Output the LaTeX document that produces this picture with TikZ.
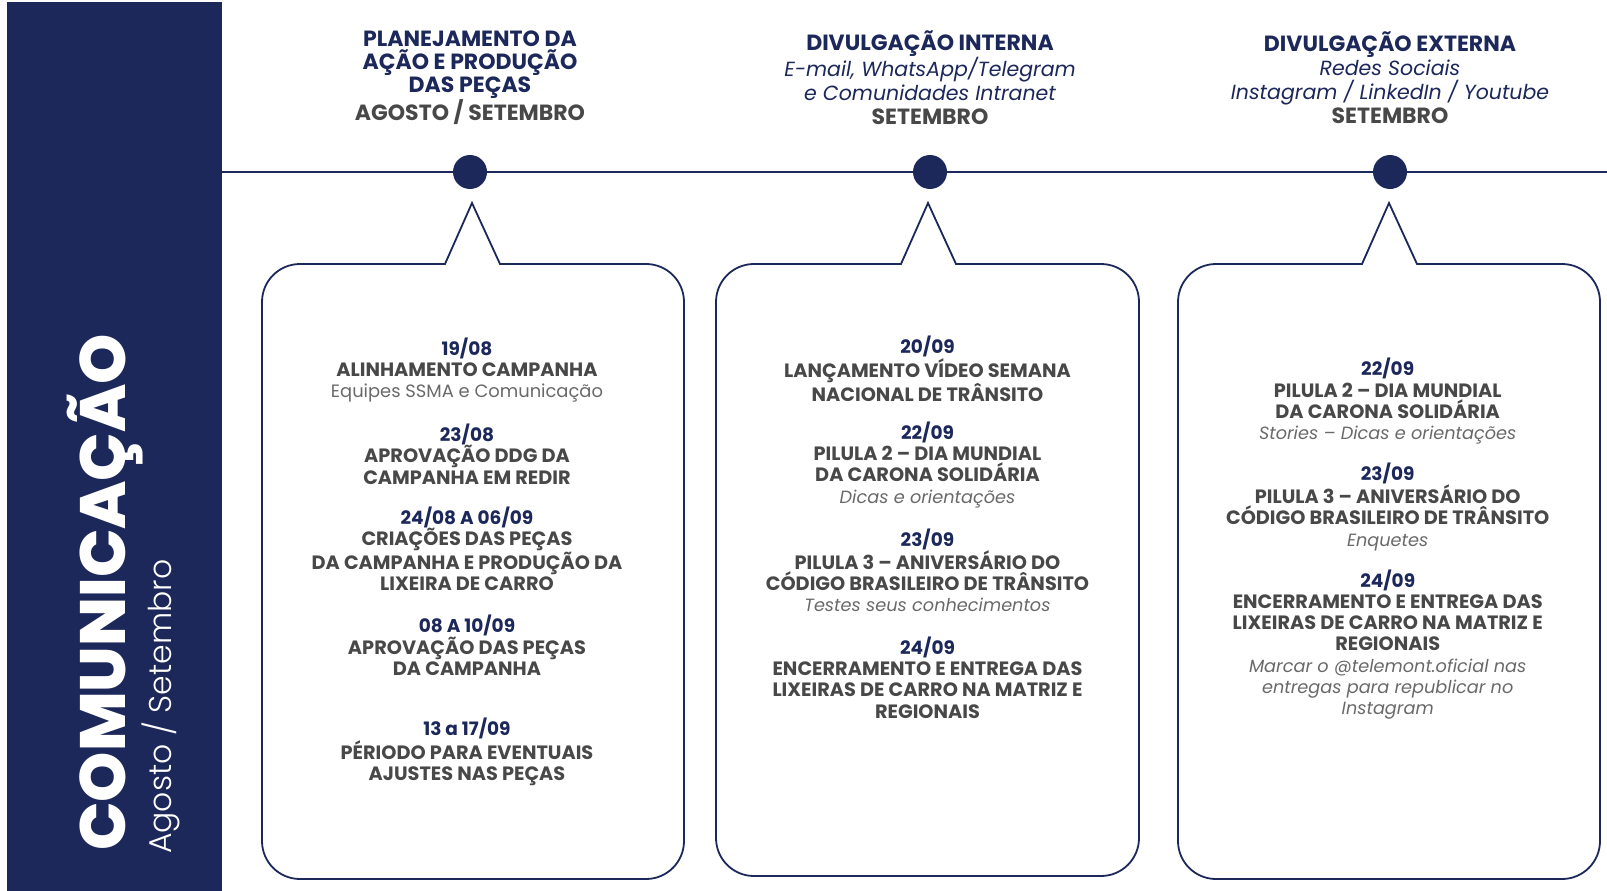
\documentclass[tikz,border=0pt]{standalone}
\usepackage{fontspec}
\setmainfont{Poppins}
\newfontfamily\lightfont{Poppins Light}
\newfontfamily\heavyfont{Poppins ExtraBold}
\usetikzlibrary{positioning}

\definecolor{navy}{RGB}{28,39,90}
\definecolor{txtgray}{RGB}{72,72,72}
\definecolor{notegray}{RGB}{105,105,105}

\newcommand\phtitle[1]{{\fontsize{22}{24}\selectfont\color{navy}\bfseries #1}}
\newcommand\phsub[1]{{\color{navy}\itshape #1}}
\newcommand\phmonth[1]{{\fontsize{22}{24}\selectfont\color{txtgray}\bfseries #1}}
\newcommand\evdate[1]{{\fontsize{18.5}{21.3}\selectfont\color{navy}\bfseries #1}}
\newcommand\evtitle[1]{{\fontsize{19.3}{21.3}\selectfont\color{txtgray}\bfseries #1}}
\newcommand\evnote[1]{{\fontsize{17.7}{21.3}\selectfont\color{notegray}\itshape #1}}
\newcommand\evplain[1]{{\fontsize{17.9}{21.3}\selectfont\color{notegray}#1}}

\tikzset{
	dot/.style={circle, fill=navy, minimum size=34pt, inner sep=0pt},
	bubble/.style={draw=navy, line width=1.8pt},
	entry/.style={align=center, inner sep=0pt, font=\fontsize{18.5}{21.3}\selectfont},
	phase/.style={align=center, inner sep=0pt, font=\fontsize{20.5}{24}\selectfont},
}

\begin{document}
\begin{tikzpicture}[x=1pt, y=-1pt]
	\useasboundingbox (0,0) rectangle (1607,891);
	
	% side bar
	\node (side) [fill=navy, minimum width=215pt, minimum height=889pt, inner sep=0pt, anchor=north west] at (7,2) {};
	\node (area) [rotate=90, anchor=base west, inner sep=0pt, text=white, font=\fontsize{64}{64}\heavyfont] at (125,851) {COMUNICAÇÃO};
	\node (period) [rotate=90, anchor=base west, inner sep=0pt, text=white, font=\fontsize{31.5}{31.5}\lightfont] at (171,854) {Agosto / Setembro};
	
	% timeline
	\node (dot1) [dot] at (470,172) {};
	\node (dot2) [dot, on grid, right=460pt of dot1] {};
	\node (dot3) [dot, on grid, right=460pt of dot2] {};
	\coordinate (tlend) at (1607,172);
	\draw[navy, line width=1.8pt] (side.east |- dot1) -- (dot1) -- (dot2) -- (dot3) -- (tlend);
	
	\node (phase1) [phase, font=\fontsize{20.5}{23}\selectfont, on grid, above=94.5pt of dot1] {\phtitle{PLANEJAMENTO DA}\\ \phtitle{AÇÃO E PRODUÇÃO}\\ \phtitle{DAS PEÇAS}\\ \phmonth{AGOSTO / SETEMBRO}};
	\node (phase2) [phase, on grid, above=94.5pt of dot2] {\phtitle{DIVULGAÇÃO INTERNA}\\ \phsub{E-mail, WhatsApp/Telegram}\\ \phsub{e Comunidades Intranet}\\ \phmonth{SETEMBRO}};
	\node (phase3) [phase, on grid, above=94.5pt of dot3] {\phtitle{DIVULGAÇÃO EXTERNA}\\ \phsub{Redes Sociais}\\ \phsub{Instagram / LinkedIn / Youtube}\\ \phmonth{SETEMBRO}};
	
	% bubbles
	\foreach \l/\r/\a/\b in {262/684/472/879, 716/1139/928/876, 1178/1600/1389/879}
		\draw[bubble] (\a-27,264) -- (\a,203) -- (\a+28,264) [rounded corners=38] -- (\r,264) -- (\r,\b) -- (\l,\b) -- (\l,264) [sharp corners] -- cycle;
	
	% planejamento
	\node (p1) [entry] at (467,370) {\evdate{19/08}\\ \evtitle{ALINHAMENTO CAMPANHA}\\ \evplain{Equipes SSMA e Comunicação}};
	\node (p2) [entry] at (467,454) {\evdate{23/08}\\ \evtitle{APROVAÇÃO DDG DA}\\ \evtitle{CAMPANHA EM REDIR}};
	\node (p3) [entry] at (467,549) {\evdate{24/08 A 06/09}\\ \evtitle{CRIAÇÕES DAS PEÇAS}\\ \evtitle{DA CAMPANHA E PRODUÇÃO DA}\\ \evtitle{LIXEIRA DE CARRO}};
	\node (p4) [entry] at (467,645.5) {\evdate{08 A 10/09}\\ \evtitle{APROVAÇÃO DAS PEÇAS}\\ \evtitle{DA CAMPANHA}};
	\node (p5) [entry] at (467,752) {\evdate{13 a 17/09}\\ \evtitle{PÉRIODO PARA EVENTUAIS}\\ \evtitle{AJUSTES NAS PEÇAS}};
	
	% divulgacao interna
	\node (i1) [entry] at (927.5,369) {\evdate{20/09}\\ \evtitle{LANÇAMENTO VÍDEO SEMANA}\\ \evtitle{NACIONAL DE TRÂNSITO}};
	\node (i2) [entry] at (927.5,464.8) {\evdate{22/09}\\ \evtitle{PILULA 2 – DIA MUNDIAL}\\ \evtitle{DA CARONA SOLIDÁRIA}\\ \evnote{Dicas e orientações}};
	\node (i3) [entry] at (927.5,570.3) {\evdate{23/09}\\ \evtitle{PILULA 3 – ANIVERSÁRIO DO}\\ \evtitle{CÓDIGO BRASILEIRO DE TRÂNSITO}\\ \evnote{Testes seus conhecimentos}};
	\node (i4) [entry] at (927.5,677.4) {\evdate{24/09}\\ \evtitle{ENCERRAMENTO E ENTREGA DAS}\\ \evtitle{LIXEIRAS DE CARRO NA MATRIZ E}\\ \evtitle{REGIONAIS}};
	
	% divulgacao externa
	\node (x1) [entry] at (1387.7,401.3) {\evdate{22/09}\\ \evtitle{PILULA 2 – DIA MUNDIAL}\\ \evtitle{DA CARONA SOLIDÁRIA}\\ \evnote{Stories – Dicas e orientações}};
	\node (x2) [entry] at (1387.7,506.8) {\evdate{23/09}\\ \evtitle{PILULA 3 – ANIVERSÁRIO DO}\\ \evtitle{CÓDIGO BRASILEIRO DE TRÂNSITO}\\ \evnote{Enquetes}};
	\node (x3) [entry] at (1387.7,644.5) {\evdate{24/09}\\ \evtitle{ENCERRAMENTO E ENTREGA DAS}\\ \evtitle{LIXEIRAS DE CARRO NA MATRIZ E}\\ \evtitle{REGIONAIS}\\ \evnote{Marcar o @telemont.oficial nas}\\ \evnote{entregas para republicar no}\\ \evnote{Instagram}};
\end{tikzpicture}
\end{document}
